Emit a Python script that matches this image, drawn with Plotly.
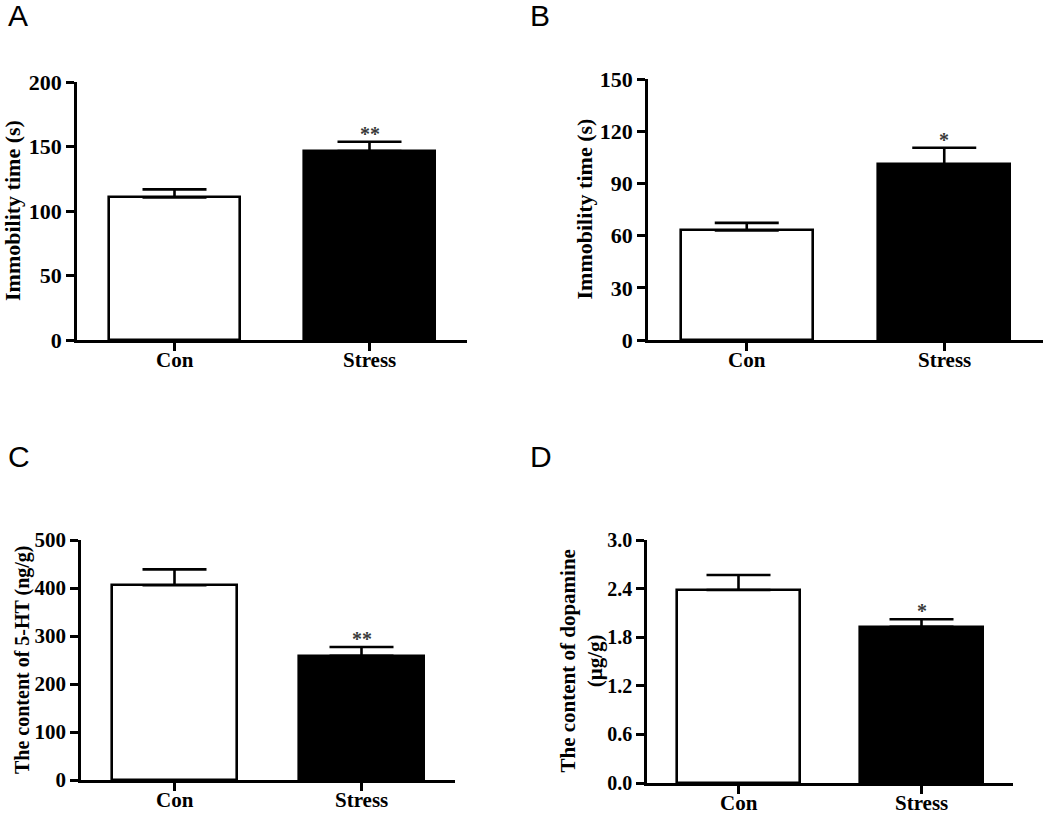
import plotly.graph_objects as go

W, H = 1050, 816

categories = ["Con", "Stress"]

# Panel values (mean, SEM)
a_mean = [110.6, 146.5]
a_sem = [6.2, 7.2]
b_mean = [63.0, 101.0]
b_sem = [4.3, 9.5]
c_mean = [405.6, 259.0]
c_sem = [33.3, 18.0]
d_mean = [2.383, 1.927]
d_sem = [0.185, 0.095]

a_sig = ["", "**"]
b_sig = ["", "*"]
c_sig = ["", "**"]
d_sig = ["", "*"]

a_ticks = [0, 50, 100, 150, 200]
b_ticks = [0, 30, 60, 90, 120, 150]
c_ticks = [0, 100, 200, 300, 400, 500]
d_ticks = [0.0, 0.6, 1.2, 1.8, 2.4, 3.0]

bar_fill = ["white", "black"]

SERIF = "Liberation Serif"
SANS = "Liberation Sans"

# pixel boxes of plot areas: (left, right, top, bottom)
panels = [
    dict(mean=a_mean, sem=a_sem, sig=a_sig, ticks=a_ticks, fmt="d",
         box=(77, 467, 82, 340), title="Immobility time (s)", tx=13, tsize=22,
         ticksize=22, letter="A", lx=6, ly=15, caty=360),
    dict(mean=b_mean, sem=b_sem, sig=b_sig, ticks=b_ticks, fmt="d",
         box=(648, 1043, 79, 340), title="Immobility time (s)", tx=584, tsize=22,
         ticksize=22, letter="B", lx=528, ly=15, caty=360),
    dict(mean=c_mean, sem=c_sem, sig=c_sig, ticks=c_ticks, fmt="d",
         box=(81, 455, 540, 780), title="The content of 5-HT (ng/g)", tx=22, tsize=20,
         ticksize=21, letter="C", lx=6, ly=456, caty=800),
    dict(mean=d_mean, sem=d_sem, sig=d_sig, ticks=d_ticks, fmt=".1f",
         box=(647, 1013, 540, 783), title="The content of dopamine<br>(μg/g)", tx=581, tsize=21,
         ticksize=20, letter="D", lx=528, ly=456, caty=803),
]

fig = go.Figure()
annotations = []
LW = 2.6

for i, p in enumerate(panels):
    n = "" if i == 0 else str(i + 1)
    xa = "x" + n
    ya = "y" + n
    l, r, t, b = p["box"]
    fig.add_trace(go.Bar(
        x=categories, y=p["mean"], xaxis=xa, yaxis=ya,
        width=0.667,
        marker=dict(color=bar_fill, line=dict(color="black", width=LW)),
        error_y=dict(type="data", symmetric=False, array=p["sem"],
                     arrayminus=[0, 0], color="black", thickness=LW, width=32),
        showlegend=False, hoverinfo="skip",
    ))
    ymax = p["ticks"][-1]
    axis_common = dict(showline=True, linecolor="black", linewidth=LW,
                       ticks="outside", ticklen=8, tickwidth=LW, tickcolor="black",
                       showgrid=False, zeroline=False, automargin=False)
    fig.layout[("xaxis" + n)] = dict(
        domain=[l / W, r / W], anchor=ya, type="category",
        range=[-0.5, 1.5], showticklabels=False, **axis_common,
    )
    fig.layout[("yaxis" + n)] = dict(
        domain=[1 - b / H, 1 - t / H], anchor=xa,
        range=[0, ymax], tickvals=p["ticks"], tickformat=p["fmt"],
        **axis_common,
        tickfont=dict(family=SERIF, size=p["ticksize"], color="black", weight="bold"),
    )
    # category labels
    for c in categories:
        annotations.append(dict(
            x=c, y=1 - p["caty"] / H, xref=xa, yref="paper", text=c,
            showarrow=False, xanchor="center", yanchor="middle",
            font=dict(family=SERIF, size=21, color="black", weight="bold")))
    # significance marks
    for c, m, s, g in zip(categories, p["mean"], p["sem"], p["sig"]):
        if g:
            annotations.append(dict(
                x=c, y=m + s, xref=xa, yref=ya, text=g, showarrow=False,
                yanchor="bottom", yshift=-5,
                font=dict(family=SERIF, size=20, color="#3a3a3a", weight="bold")))
    # axis title
    annotations.append(dict(
        x=p["tx"] / W, y=1 - ((t + b) / 2) / H, xref="paper", yref="paper",
        text=p["title"], textangle=-90, showarrow=False,
        xanchor="center", yanchor="middle",
        font=dict(family=SERIF, size=p["tsize"], color="black", weight="bold")))
    # panel letter
    annotations.append(dict(
        x=p["lx"] / W, y=1 - p["ly"] / H, xref="paper", yref="paper",
        text=p["letter"], showarrow=False, xanchor="left", yanchor="middle",
        font=dict(family=SANS, size=30, color="black")))

fig.update_layout(
    width=W, height=H,
    margin=dict(l=0, r=0, t=0, b=0, autoexpand=False),
    paper_bgcolor="white", plot_bgcolor="white",
    annotations=annotations,
    bargap=0,
)

fig.write_html("out.html", config={"displayModeBar": False},
               post_script="document.body.style.margin='0px';document.body.style.overflow='hidden';")
